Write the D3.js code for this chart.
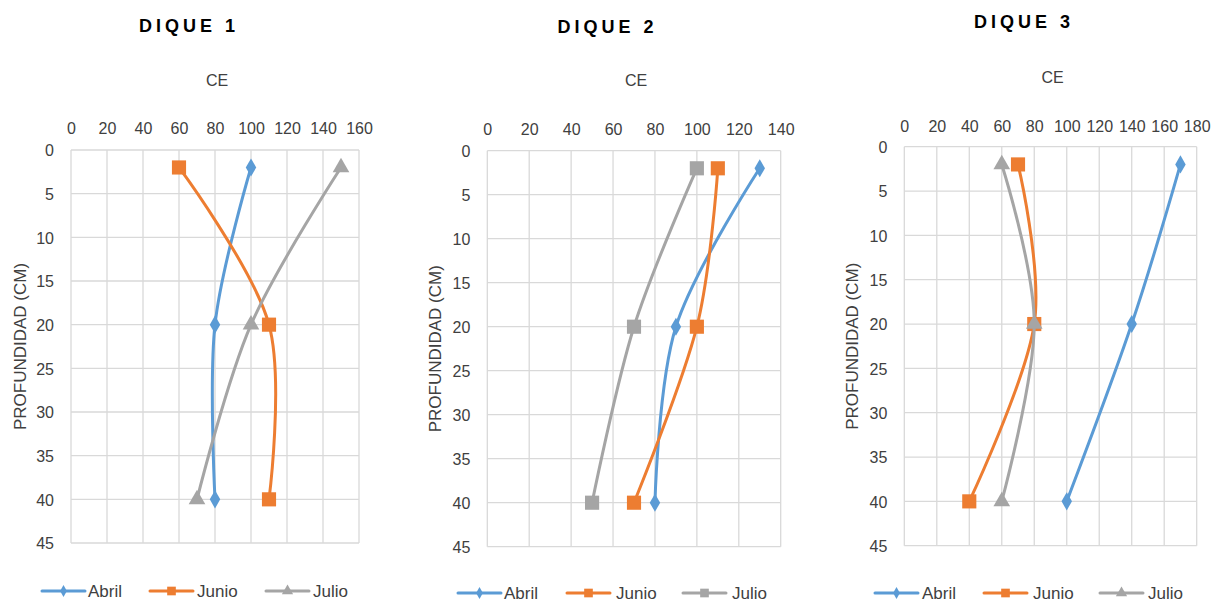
<!DOCTYPE html>
<html>
<head>
<meta charset="utf-8">
<script src="https://cdn.jsdelivr.net/npm/d3@7"></script>
<style>
  html, body { margin: 0; padding: 0; background: #ffffff; }
  svg { display: block; font-family: "Liberation Sans", Arial, sans-serif; }
</style>
</head>
<body>
<svg id="chart" width="1215" height="602"></svg>
<script>
// Conductividad eléctrica (CE) por profundidad, tres diques y tres campañas
const depths = [2, 20, 40];
const seriesNames = ["Abril", "Junio", "Julio"];
const seriesColors = ["#5B9BD5", "#ED7D31", "#A5A5A5"];

const dique1Abril = [100, 80, 80];
const dique1Junio = [60, 110, 110];
const dique1Julio = [150, 100, 70];

const dique2Abril = [130, 90, 80];
const dique2Junio = [110, 100, 70];
const dique2Julio = [100, 70, 50];

const dique3Abril = [170, 140, 100];
const dique3Junio = [70, 80, 40];
const dique3Julio = [60, 80, 60];

const titles = ["DIQUE 1", "DIQUE 2", "DIQUE 3"];
const xAxisTitle = "CE";
const yAxisTitle = "PROFUNDIDAD (CM)";
const xMaxes = [160, 140, 180];
const xStep = 20;
const yTicks = [0, 5, 10, 15, 20, 25, 30, 35, 40, 45];

const panelValues = [
  [dique1Abril, dique1Junio, dique1Julio],
  [dique2Abril, dique2Junio, dique2Julio],
  [dique3Abril, dique3Junio, dique3Julio]
];
const panelMarkers = [
  ["diamond", "square", "triangle"],
  ["diamond", "square", "square"],
  ["diamond", "square", "triangle"]
];

// Plot-area geometry of each panel
const layout = [
  { x0: 71, x1: 359, y0: 150, y1: 543, titleX: 189, titleY: 32, ceY: 86, tickY: 134, yTitleX: 19.5,
    legendY: 591, legend: [[42, 88], [150, 197], [266, 313]] },
  { x0: 487.3, x1: 780.7, y0: 150.7, y1: 546.7, titleX: 607.5, titleY: 33, ceY: 86, tickY: 134.5, yTitleX: 435,
    legendY: 593, legend: [[458, 504], [567, 616], [683, 732]] },
  { x0: 904.3, x1: 1196.7, y0: 146.7, y1: 545.7, titleX: 1024, titleY: 28, ceY: 83, tickY: 131.5, yTitleX: 851.5,
    legendY: 593, legend: [[875, 922], [984, 1033], [1100, 1148]] }
];

const svg = d3.select("#chart");
const textColor = "#404040";
const gridColor = "#D9D9D9";

const symbolFor = {
  diamond: d3.symbolDiamond,
  square: d3.symbolSquare,
  triangle: d3.symbolTriangle
};
const markerSize = { diamond: 95, square: 200, triangle: 120 };
const legendSize = { diamond: 40, square: 75, triangle: 55 };

layout.forEach((L, p) => {
  const g = svg.append("g");
  const xMax = xMaxes[p];
  const x = d3.scaleLinear().domain([0, xMax]).range([L.x0, L.x1]);
  const y = d3.scaleLinear().domain([0, 45]).range([L.y0, L.y1]);
  const xTicks = d3.range(0, xMax + 1, xStep);

  // grid
  g.append("g").selectAll("line.v").data(xTicks).join("line")
    .attr("x1", d => x(d)).attr("x2", d => x(d))
    .attr("y1", L.y0).attr("y2", L.y1)
    .attr("stroke", gridColor).attr("stroke-width", 1.3);
  g.append("g").selectAll("line.h").data(yTicks).join("line")
    .attr("x1", L.x0).attr("x2", L.x1)
    .attr("y1", d => y(d)).attr("y2", d => y(d))
    .attr("stroke", gridColor).attr("stroke-width", 1.3);

  // top axis labels
  const xAxis = d3.axisTop(x).tickValues(xTicks).tickSize(0).tickPadding(0);
  const xg = g.append("g").attr("transform", `translate(0,${L.tickY})`).call(xAxis);
  xg.select(".domain").remove();
  xg.selectAll("text").attr("fill", textColor).attr("font-size", 16)
    .attr("dy", 0).attr("y", 0);

  // left axis labels
  const yAxis = d3.axisLeft(y).tickValues(yTicks).tickSize(0).tickPadding(0);
  const yg = g.append("g").attr("transform", `translate(${L.x0 - 17},0)`).call(yAxis);
  yg.select(".domain").remove();
  yg.selectAll("text").attr("fill", textColor).attr("font-size", 16).attr("x", 0).attr("dy", "0.36em");

  // titles
  g.append("text").attr("x", L.titleX).attr("y", L.titleY)
    .attr("text-anchor", "middle").attr("font-size", 18).attr("font-weight", "bold")
    .attr("letter-spacing", 4).attr("fill", "#000").text(titles[p]);
  g.append("text").attr("x", (L.x0 + L.x1) / 2 + 2).attr("y", L.ceY)
    .attr("text-anchor", "middle").attr("font-size", 16).attr("fill", textColor).text(xAxisTitle);
  g.append("text")
    .attr("transform", `translate(${L.yTitleX + 6},${(L.y0 + L.y1) / 2}) rotate(-90)`)
    .attr("text-anchor", "middle").attr("font-size", 17).attr("fill", textColor).text(yAxisTitle);

  // series
  const line = d3.line()
    .x(d => x(d.v)).y(d => y(d.d))
    .curve(d3.curveCardinal.tension(0));

  panelValues[p].forEach((vals, s) => {
    const pts = vals.map((v, i) => ({ v, d: depths[i] }));
    const color = seriesColors[s];
    const mk = panelMarkers[p][s];
    g.append("path").datum(pts).attr("d", line)
      .attr("fill", "none").attr("stroke", color).attr("stroke-width", 3)
      .attr("stroke-linejoin", "round").attr("stroke-linecap", "round");
    g.append("g").selectAll("path").data(pts).join("path")
      .attr("transform", d => `translate(${x(d.v)},${y(d.d)})`)
      .attr("d", d3.symbol(symbolFor[mk], markerSize[mk]))
      .attr("fill", color);
  });

  // legend
  seriesNames.forEach((name, s) => {
    const [lx, tx] = L.legend[s];
    const color = seriesColors[s];
    const mk = panelMarkers[p][s];
    const lg = g.append("g");
    lg.append("line").attr("x1", lx).attr("x2", lx + 43)
      .attr("y1", L.legendY).attr("y2", L.legendY)
      .attr("stroke", color).attr("stroke-width", 3).attr("stroke-linecap", "round");
    lg.append("path").attr("transform", `translate(${lx + 21.5},${L.legendY})`)
      .attr("d", d3.symbol(symbolFor[mk], legendSize[mk])).attr("fill", color);
    lg.append("text").attr("x", tx).attr("y", L.legendY).attr("dy", "0.34em")
      .attr("font-size", 17).attr("fill", textColor).text(name);
  });
});
</script>
</body>
</html>
